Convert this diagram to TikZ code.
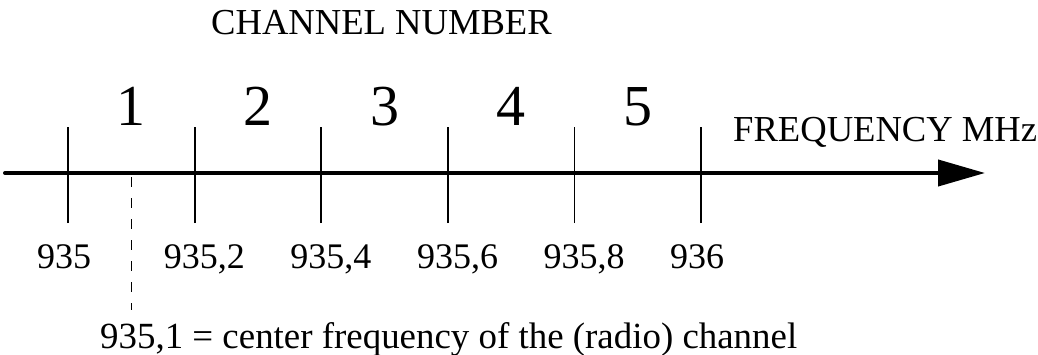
\documentclass[tikz,border=0pt]{standalone}
\usepackage{fontspec}
\setmainfont{Liberation Serif}
\usetikzlibrary{arrows.meta}
\begin{document}
\begin{tikzpicture}[x=1pt,y=1pt,line join=round,line cap=round,
			every node/.style={inner sep=0pt,font=\fontsize{36}{40}\selectfont},
			declare function={yAx = 181; xL = 5; xR = 985; xT = 68; dT = 126.6; yTb = 131; yTt = 227; yNum = 229; yLab = 86; xC = 131.5;}]
			\useasboundingbox (0,0) rectangle (1038,354);
			%%Trục tần số
			\coordinate (axL) at (xL,yAx);
			\coordinate (axR) at (xR,yAx);
			\draw[line width=4pt,-{Triangle[length=47pt,width=26pt]}] (axL) -- (axR);
			\node[anchor=base west,font=\fontsize{36.6}{40}\selectfont] (freq) at (733,212) {FREQUENCY MHz};
			%%Vạch chia và nhãn
			\foreach \i/\lab in {0/935,1/{935,2},2/{935,4},3/{935,6},4/{935,8},5/936} {
				\coordinate (tb\i) at (xT+\i*dT,yTb);
				\coordinate (tt\i) at (xT+\i*dT,yTt);
				\draw[line width=1.8pt,line cap=butt] (tb\i) -- (tt\i);
				\node[anchor=base west] (lab\i) at (xT+\i*dT-31,yLab) {\lab};
			}
			%%Số kênh
			\foreach \i in {1,...,5}
				\node[anchor=base,font=\fontsize{58}{60}\selectfont] (ch\i) at (xT+\i*dT-0.5*dT,yNum) {\i};
			\node[anchor=base,font=\fontsize{36.6}{40}\selectfont] (title) at (381.5,319) {CHANNEL NUMBER};
			%%Tần số trung tâm
			\coordinate (cfT) at (xC,177);
			\coordinate (cfB) at (xC,44);
			\draw[line width=1pt,line cap=butt,dash pattern=on 10pt off 11pt] (cfT) -- (cfB);
			\node[anchor=base west,font=\fontsize{36.9}{40}\selectfont] (cf) at (100,6) {935,1 = center frequency of the (radio) channel};
		\end{tikzpicture}
\end{document}
